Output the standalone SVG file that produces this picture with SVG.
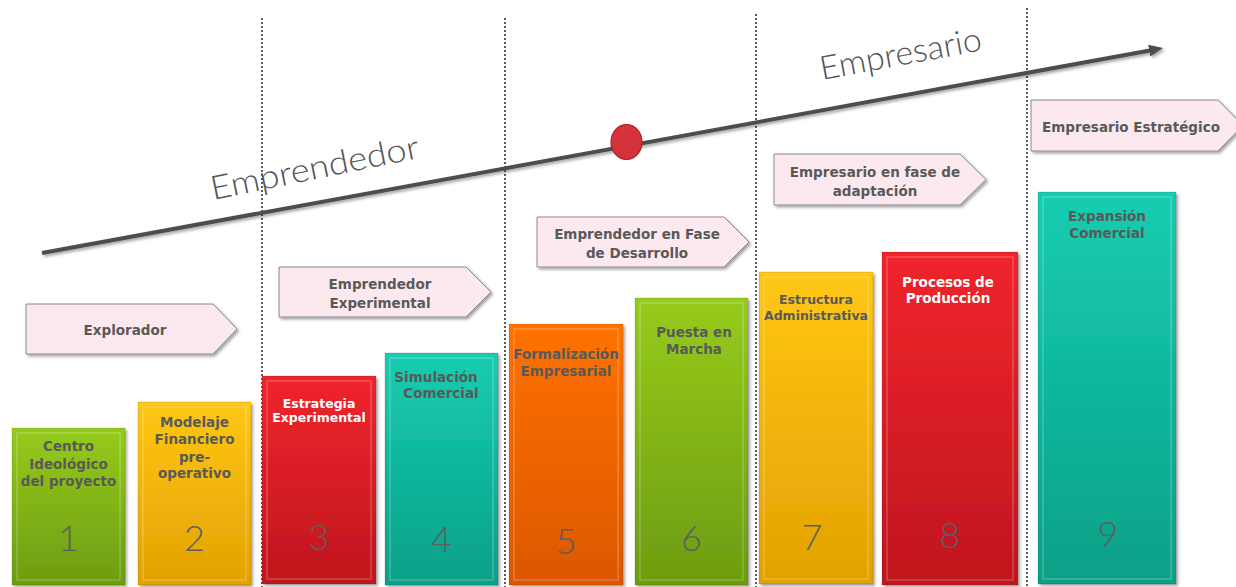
<svg xmlns="http://www.w3.org/2000/svg" width="1236" height="587" viewBox="0 0 1236 587">
<defs>
<style>
.bar-lbl{font-family:"DejaVu Sans","Liberation Sans",sans-serif;font-weight:bold;font-size:13.5px;fill:#595959;text-anchor:middle}
.sm{font-size:12.5px}
.w{fill:#ffffff}
.num{font-family:Lato,"Liberation Sans",sans-serif;font-weight:300;font-size:36px;fill:#5e5e5e;text-anchor:middle}
.tag{fill:#fce9ef;stroke:#8a8a8a;stroke-width:1}
.tag-lbl{font-family:"DejaVu Sans","Liberation Sans",sans-serif;font-weight:bold;font-size:13.5px;fill:#595959;text-anchor:middle}
.big{font-family:Lato,"Liberation Sans",sans-serif;font-weight:300;font-size:33px;fill:#555555}
.sep{stroke:#5a5a5a;stroke-width:2;stroke-dasharray:2 2;fill:none}
.bevel{fill:none;stroke:#ffffff;stroke-opacity:0.22;stroke-width:1.5}
.edge{stroke:#000;stroke-opacity:0.12;stroke-width:1}
</style>
<linearGradient id="gGreen" x1="0" y1="0" x2="0" y2="1"><stop offset="0" stop-color="#96cb1c"/><stop offset="1" stop-color="#6c9c10"/></linearGradient>
<linearGradient id="gYellow" x1="0" y1="0" x2="0" y2="1"><stop offset="0" stop-color="#ffc714"/><stop offset="1" stop-color="#e3a102"/></linearGradient>
<linearGradient id="gRed" x1="0" y1="0" x2="0" y2="1"><stop offset="0" stop-color="#f0252c"/><stop offset="1" stop-color="#bf161e"/></linearGradient>
<linearGradient id="gTeal" x1="0" y1="0" x2="0" y2="1"><stop offset="0" stop-color="#18cdb1"/><stop offset="1" stop-color="#07a087"/></linearGradient>
<linearGradient id="gOrange" x1="0" y1="0" x2="0" y2="1"><stop offset="0" stop-color="#ff7200"/><stop offset="1" stop-color="#dc5700"/></linearGradient>
<filter id="sh" x="-10%" y="-10%" width="130%" height="130%"><feDropShadow dx="2" dy="2" stdDeviation="1.5" flood-color="#000" flood-opacity="0.35"/></filter>
<marker id="ah" markerUnits="userSpaceOnUse" markerWidth="14" markerHeight="12" refX="2" refY="6" orient="auto"><path d="M0,0 L14,6 L0,12 Z" fill="#4d4d4d"/></marker>
</defs>
<rect width="1236" height="587" fill="#ffffff"/>

<g id="separators">
<line class="sep" x1="262" y1="18" x2="262" y2="587"/>
<line class="sep" x1="505" y1="18" x2="505" y2="587"/>
<line class="sep" x1="756" y1="14" x2="756" y2="587"/>
<line class="sep" x1="1027" y1="8" x2="1027" y2="587"/>
</g>

<g id="connectors">
<line x1="42" y1="253" x2="1151.2" y2="50.2" stroke="#4d4d4d" stroke-width="4" marker-end="url(#ah)" filter="url(#sh)"/>
</g>

<g id="label-emprendedor"><text class="big" transform="translate(213,200) rotate(-11.5)" textLength="212" lengthAdjust="spacingAndGlyphs">Emprendedor</text></g>
<g id="label-empresario"><text class="big" transform="translate(822,80) rotate(-10.5)" textLength="164" lengthAdjust="spacingAndGlyphs">Empresario</text></g>

<g id="hito"><ellipse cx="626.5" cy="142" rx="15.5" ry="17.5" fill="#d5333a" stroke="#a8212a" stroke-width="1.2"/></g>

<g id="tag-explorador"><path class="tag" filter="url(#sh)" d="M26,304 L213,304 L237,329 L213,354 L26,354 Z"/><text class="tag-lbl" x="125" y="335">Explorador</text></g>
<g id="tag-experimental"><path class="tag" filter="url(#sh)" d="M279,267 L466,267 L491,292 L466,317 L279,317 Z"/><text class="tag-lbl" x="380" y="289">Emprendedor</text><text class="tag-lbl" x="380" y="308">Experimental</text></g>
<g id="tag-desarrollo"><path class="tag" filter="url(#sh)" d="M537,217 L724,217 L749,242 L724,267 L537,267 Z"/><text class="tag-lbl" x="637" y="239">Emprendedor en Fase</text><text class="tag-lbl" x="637" y="258">de Desarrollo</text></g>
<g id="tag-adaptacion"><path class="tag" filter="url(#sh)" d="M774,154 L960,154 L986,179.5 L960,205 L774,205 Z"/><text class="tag-lbl" x="875" y="177">Empresario en fase de</text><text class="tag-lbl" x="875" y="196">adaptación</text></g>
<g id="tag-estrategico"><path class="tag" filter="url(#sh)" d="M1031,100 L1218,100 L1243,125.5 L1218,151 L1031,151 Z"/><text class="tag-lbl" x="1131" y="132">Empresario Estratégico</text></g>

<g id="bar1"><rect x="12" y="428" width="113" height="157" fill="url(#gGreen)" class="edge" filter="url(#sh)"/><rect class="bevel" x="17" y="433" width="103" height="147"/><text class="bar-lbl" x="68.5" y="451">Centro</text><text class="bar-lbl" x="68.5" y="469">Ideológico</text><text class="bar-lbl" x="68.5" y="486">del proyecto</text><text class="num" x="68.5" y="551">1</text></g>
<g id="bar2"><rect x="138" y="402" width="113" height="183" fill="url(#gYellow)" class="edge" filter="url(#sh)"/><rect class="bevel" x="143" y="407" width="103" height="173"/><text class="bar-lbl" x="194.5" y="427">Modelaje</text><text class="bar-lbl" x="194.5" y="444">Financiero</text><text class="bar-lbl" x="194.5" y="462">pre-</text><text class="bar-lbl" x="194.5" y="478">operativo</text><text class="num" x="194.5" y="551">2</text></g>
<g id="bar3"><rect x="262" y="376" width="114" height="208" fill="url(#gRed)" class="edge" filter="url(#sh)"/><rect class="bevel" x="267" y="381" width="104" height="198"/><text class="bar-lbl sm w" x="319" y="408">Estrategia</text><text class="bar-lbl sm w" x="319" y="422">Experimental</text><text class="num w" x="319" y="550">3</text></g>
<g id="bar4"><rect x="385" y="353" width="113" height="232" fill="url(#gTeal)" class="edge" filter="url(#sh)"/><rect class="bevel" x="390" y="358" width="103" height="222"/><text class="bar-lbl" x="436" y="382">Simulación</text><text class="bar-lbl" x="441" y="398">Comercial</text><text class="num" x="441.5" y="552">4</text></g>
<g id="bar5"><rect x="509" y="324" width="114" height="261" fill="url(#gOrange)" class="edge" filter="url(#sh)"/><rect class="bevel" x="514" y="329" width="104" height="251"/><text class="bar-lbl" x="566" y="359">Formalización</text><text class="bar-lbl" x="566" y="376">Empresarial</text><text class="num" x="566" y="554">5</text></g>
<g id="bar6"><rect x="635" y="298" width="113" height="287" fill="url(#gGreen)" class="edge" filter="url(#sh)"/><rect class="bevel" x="640" y="303" width="103" height="277"/><text class="bar-lbl" x="694" y="337">Puesta en</text><text class="bar-lbl" x="694" y="354">Marcha</text><text class="num" x="691.5" y="551">6</text></g>
<g id="bar7"><rect x="759" y="272" width="114" height="312" fill="url(#gYellow)" class="edge" filter="url(#sh)"/><rect class="bevel" x="764" y="277" width="104" height="302"/><text class="bar-lbl sm" x="816" y="304">Estructura</text><text class="bar-lbl sm" x="816" y="320">Administrativa</text><text class="num" x="812" y="550">7</text></g>
<g id="bar8"><rect x="882" y="252" width="136" height="333" fill="url(#gRed)" class="edge" filter="url(#sh)"/><rect class="bevel" x="887" y="257" width="126" height="323"/><text class="bar-lbl w" x="948" y="287">Procesos de</text><text class="bar-lbl w" x="948" y="303">Producción</text><text class="num w" x="950" y="548">8</text></g>
<g id="bar9"><rect x="1038" y="192" width="138" height="392" fill="url(#gTeal)" class="edge" filter="url(#sh)"/><rect class="bevel" x="1043" y="197" width="128" height="382"/><text class="bar-lbl" x="1107" y="221">Expansión</text><text class="bar-lbl" x="1107" y="238">Comercial</text><text class="num" x="1108" y="547">9</text></g>
</svg>
